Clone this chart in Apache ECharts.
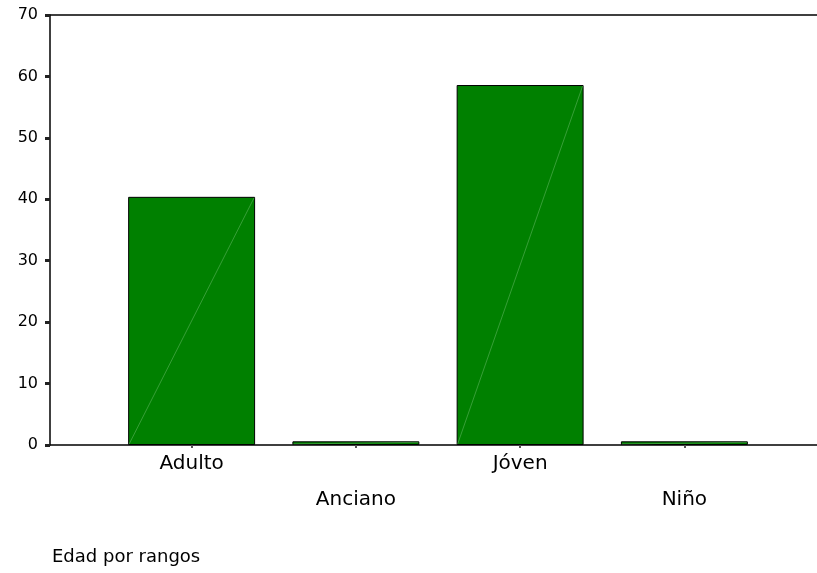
<!DOCTYPE html>
<html>
<head>
<meta charset="utf-8">
<script src="https://cdn.jsdelivr.net/npm/echarts@6/dist/echarts.min.js"></script>
<style>
html,body{margin:0;padding:0;background:#fff;}
#chart{width:817px;height:573px;}
</style>
</head>
<body>
<div id="chart"></div>
<script>
const categories = ['Adulto', 'Anciano', 'Jóven', 'Niño'];
const values = [40.4, 0.6, 58.6, 0.6];
const yTicks = [0, 10, 20, 30, 40, 50, 60, 70];
const axisTitle = 'Edad por rangos';

const chart = echarts.init(document.getElementById('chart'), null, {renderer: 'canvas'});
const font = 'DejaVu Sans';
const option = {
  animation: false,
  backgroundColor: '#fff',
  title: {
    text: axisTitle,
    left: 47,
    top: 543,
    textStyle: {fontFamily: font, fontSize: 18, fontWeight: 'normal', color: '#000'}
  },
  grid: [
    {left: 50, right: 0, top: 15, bottom: 128, containLabel: false},
    {left: 109.5, right: 50.5, top: 15, bottom: 128, containLabel: false}
  ],
  xAxis: [
    {type: 'value', gridIndex: 0, min: 0, max: 1, position: 'bottom',
     axisLine: {show: true, onZero: false, lineStyle: {color: '#000', width: 1.5}},
     axisTick: {show: false}, axisLabel: {show: false}, splitLine: {show: false}},
    {type: 'value', gridIndex: 0, min: 0, max: 1, position: 'top',
     axisLine: {show: true, onZero: false, lineStyle: {color: '#000', width: 1.5}},
     axisTick: {show: false}, axisLabel: {show: false}, splitLine: {show: false}},
    {type: 'category', gridIndex: 1, data: categories,
     axisLine: {show: false},
     axisTick: {show: true, alignWithLabel: true, length: 3, lineStyle: {color: '#555', width: 2}},
     axisLabel: {
       interval: 0, margin: 1, lineHeight: 36,
       fontFamily: font, fontSize: 20, color: '#000',
       formatter: (v, i) => (i % 2 ? '\n' + v : v)
     }}
  ],
  yAxis: [
    {type: 'value', gridIndex: 0, min: yTicks[0], max: yTicks[yTicks.length - 1], interval: 10,
     axisLine: {show: true, onZero: false, lineStyle: {color: '#000', width: 1.5}},
     axisTick: {show: true, length: 5, lineStyle: {color: '#222', width: 3}},
     axisLabel: {margin: 12, fontFamily: font, fontSize: 16, color: '#000'},
     splitLine: {show: false}},
    {type: 'value', gridIndex: 1, min: yTicks[0], max: yTicks[yTicks.length - 1], interval: 10,
     show: false, splitLine: {show: false}}
  ],
  series: [
    {
      type: 'bar',
      xAxisIndex: 2, yAxisIndex: 1,
      data: values,
      barCategoryGap: '22.7%',
      itemStyle: {color: '#008000', borderColor: '#000', borderWidth: 1}
    },
    {
      type: 'custom',
      xAxisIndex: 2, yAxisIndex: 1,
      data: values.map((v, i) => [i, v]),
      silent: true,
      z: 3,
      renderItem: function (params, api) {
        const base = api.coord([api.value(0), 0]);
        const top = api.coord([api.value(0), api.value(1)]);
        const bw = api.size([1, 0])[0] * (1 - 0.227);
        return {
          type: 'line',
          shape: {x1: base[0] - bw / 2 + 1, y1: base[1] - 1, x2: base[0] + bw / 2 - 1, y2: top[1] + 1},
          style: {stroke: 'rgba(170,220,170,0.55)', lineWidth: 0.6}
        };
      }
    }
  ]
};
chart.setOption(option);
</script>
</body>
</html>
